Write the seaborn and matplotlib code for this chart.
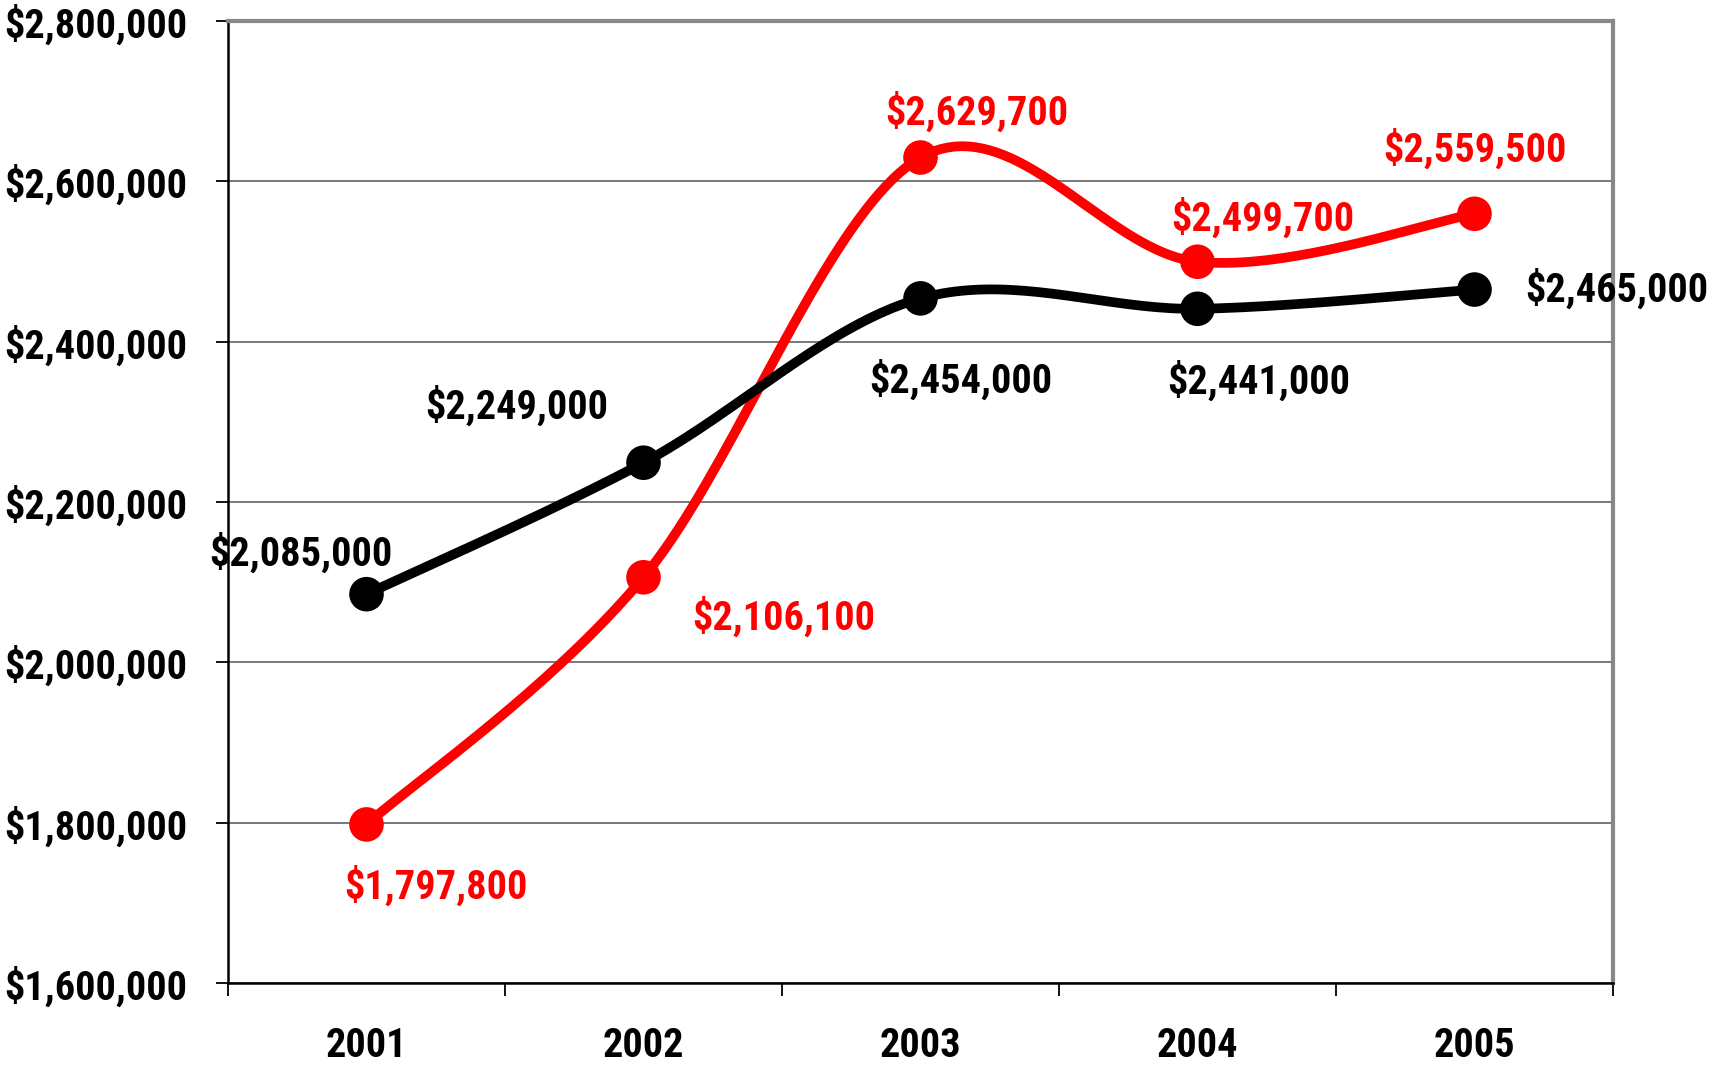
import numpy as np
import pandas as pd
import seaborn as sns
import matplotlib
matplotlib.use('Agg')
import matplotlib.pyplot as plt
import matplotlib.ticker as ticker
from matplotlib import font_manager

# --- data ---
years = ['2001', '2002', '2003', '2004', '2005']
black_vals = [2085000, 2249000, 2454000, 2441000, 2465000]
red_vals = [1797800, 2106100, 2629700, 2499700, 2559500]
yticks = [1600000, 1800000, 2000000, 2200000, 2400000, 2600000, 2800000]

# label offsets in pixels (dx, dy) relative to each point
black_off = [(-66, 41), (-127, 57), (40, -82), (61, -72), (142, 0)]
red_off = [(69, -62), (140, -40), (56, 45), (65, 44), (0, 65)]

names = {f.name for f in font_manager.fontManager.ttflist}
font = 'Liberation Sans'
for cand in ['Liberation Sans Narrow', 'Arial Narrow', 'Roboto Condensed', 'Open Sans Condensed']:
    if cand in names:
        font = cand
        break

sns.set_style('white')
plt.rcParams['font.family'] = [font, 'DejaVu Sans']
plt.rcParams['font.weight'] = 'bold'
plt.rcParams['text.color'] = 'black'
plt.rcParams['xtick.color'] = 'black'
plt.rcParams['ytick.color'] = 'black'
FS = 29


def catmull(p, n=40):
    p = np.asarray(p, dtype=float)
    ext = np.concatenate([[p[0]], p, [p[-1]]])
    out = []
    t = np.linspace(0, 1, n, endpoint=False)
    for i in range(len(p) - 1):
        p0, p1, p2, p3 = ext[i], ext[i + 1], ext[i + 2], ext[i + 3]
        out.append(0.5 * ((2 * p1) + (-p0 + p2) * t + (2 * p0 - 5 * p1 + 4 * p2 - p3) * t ** 2
                          + (-p0 + 3 * p1 - 3 * p2 + p3) * t ** 3))
    out.append([p[-1]])
    return np.concatenate(out)


def smooth(vals):
    # 2d catmull-rom, close to excel's "smoothed line"
    return catmull(np.arange(len(vals))), catmull(vals)


fig = plt.figure(figsize=(17.12, 10.68), dpi=100)
ax = fig.add_axes([228 / 1712, 85 / 1068, 1385 / 1712, 962 / 1068])

for vals, color, offs in [(red_vals, '#FF0000', red_off), (black_vals, 'black', black_off)]:
    sx, sy = smooth(vals)
    curve = pd.DataFrame({'x': sx, 'y': sy})
    pts = pd.DataFrame({'x': np.arange(len(years)), 'y': vals})
    sns.lineplot(data=curve, x='x', y='y', color=color, lw=7, ax=ax, sort=False,
                 solid_capstyle='round', zorder=3)
    sns.scatterplot(data=pts, x='x', y='y', color=color, s=620, ax=ax,
                    edgecolor='none', zorder=4, legend=False)
    for i, v in enumerate(vals):
        ax.annotate(f'${v:,.0f}', (i, v), xytext=offs[i], textcoords='offset pixels',
                    ha='center', va='center', color=color, fontsize=FS,
                    fontweight='bold', zorder=5, annotation_clip=False)

ax.set_xlim(-0.5, len(years) - 0.5)
ax.set_ylim(yticks[0], yticks[-1])
ax.set_yticks(yticks)
ax.yaxis.set_major_formatter(ticker.FuncFormatter(lambda v, _: f'${v:,.0f}'))
ax.set_xticks(np.arange(len(years)))
ax.set_xticklabels(years)
ax.set_xticks(np.arange(len(years) + 1) - 0.5, minor=True)
ax.tick_params(axis='x', which='major', bottom=True, length=0, pad=32, labelsize=FS)
ax.tick_params(axis='x', which='minor', bottom=True, length=9, width=1.3, color='black', direction='out')
ax.tick_params(axis='y', left=True, length=9, width=1.3, color='black', direction='out', pad=20, labelsize=FS)
for lbl in ax.get_xticklabels() + ax.get_yticklabels():
    lbl.set_fontweight('bold')
    lbl.set_color('black')

ax.yaxis.grid(True, color='#555555', lw=1.1)
ax.set_axisbelow(True)
ax.set_xlabel('')
ax.set_ylabel('')
for side in ['left', 'bottom']:
    ax.spines[side].set_color('black')
    ax.spines[side].set_linewidth(1.8)
for side in ['top', 'right']:
    ax.spines[side].set_color('#888888')
    ax.spines[side].set_linewidth(3)

fig.savefig('out.png', dpi=100, facecolor='white')
